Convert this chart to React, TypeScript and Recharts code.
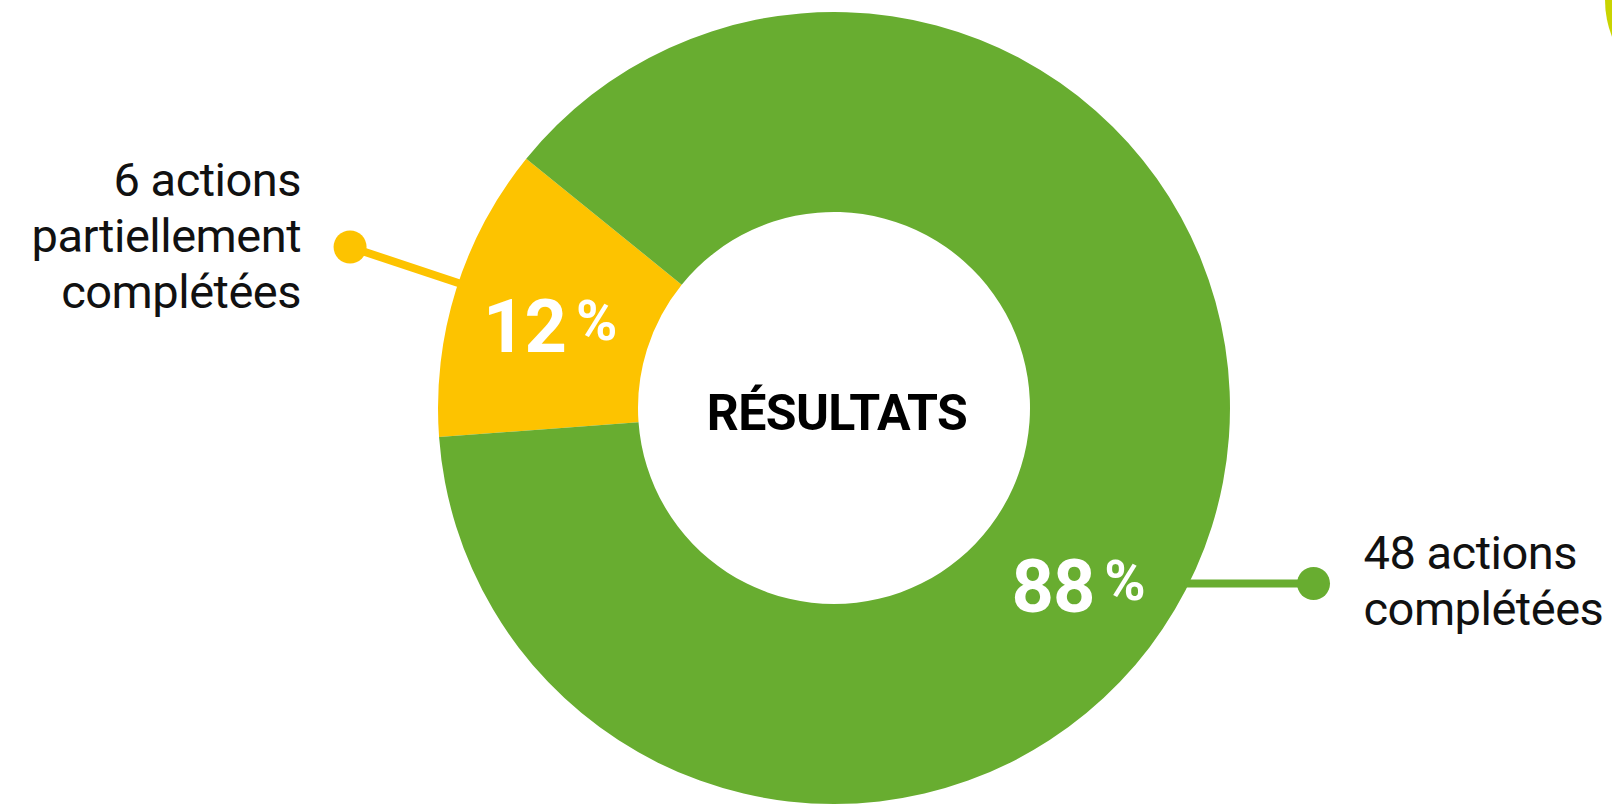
import React from 'react';
import { PieChart, Pie, Cell } from 'recharts';

const categories = ['partiellement complétées', 'complétées'];
const shares = [12, 88];
const actionCounts = [6, 48];
const labelLines = [
  ['6 actions', 'partiellement', 'complétées'],
  ['48 actions', 'complétées'],
];
const centerTitle = 'RÉSULTATS';

const colors = ['#fdc300', '#68ad30'];
const data = categories.map((name, i) => ({ name, value: shares[i], count: actionCounts[i] }));

const RAD = Math.PI / 180;
const polar = (cx: number, cy: number, r: number, angle: number) => ({
  x: cx + r * Math.cos(-angle * RAD),
  y: cy + r * Math.sin(-angle * RAD),
});

const FONT = 'Roboto, "DejaVu Sans", sans-serif';

const renderLabel = (props: any) => {
  const { cx, cy, midAngle, innerRadius, outerRadius, index, value } = props;
  const color = colors[index];
  const midR = (innerRadius + outerRadius) / 2;
  const pctAngle = index === 0 ? midAngle : 325;
  const p = polar(cx, cy, midR + 2, pctAngle);
  let start: { x: number; y: number };
  let dot: { x: number; y: number };
  let textX: number;
  let anchor: 'start' | 'end';
  let firstBase: number;
  if (index === 0) {
    start = polar(cx, cy, outerRadius - 4, midAngle - 1);
    dot = polar(cx, cy, outerRadius + 114, midAngle - 1);
    textX = dot.x - 49;
    anchor = 'end';
    firstBase = dot.y - 51;
  } else {
    start = polar(cx, cy, outerRadius - 4, 333.4);
    dot = { x: start.x + 129, y: start.y };
    textX = dot.x + 50;
    anchor = 'start';
    firstBase = dot.y - 15;
  }
  const lines = labelLines[index];
  return (
    <g>
      <text
        x={p.x}
        y={p.y + 33}
        textAnchor="middle"
        fill="#ffffff"
        fontFamily={FONT}
        fontWeight={700}
        letterSpacing={-1}
      >
        <tspan fontSize={74}>{value}</tspan>
        <tspan fontSize={56} dx={10} dy={-12}>%</tspan>
      </text>
      <line x1={start.x} y1={start.y} x2={dot.x} y2={dot.y} stroke={color} strokeWidth={8} />
      <circle cx={dot.x} cy={dot.y} r={16.5} fill={color} />
      <text
        textAnchor={anchor}
        fill="#111111"
        fontFamily={FONT}
        fontSize={47}
        fontWeight={400}
        letterSpacing={-0.5}
      >
        {lines.map((l, i) => (
          <tspan key={i} x={textX} y={firstBase + i * 56}>
            {l}
          </tspan>
        ))}
      </text>
      {index === 0 && (
        <text
          x={cx + 3}
          y={cy + 22}
          textAnchor="middle"
          fill="#000000"
          fontFamily={FONT}
          fontSize={50}
          fontWeight={700}
          letterSpacing={-0.6}
        >
          {centerTitle}
        </text>
      )}
    </g>
  );
};

export default function App() {
  return (
    <div
      style={{
        position: 'absolute',
        left: 0,
        top: 0,
        width: 1612,
        height: 804,
        overflow: 'hidden',
        background: '#ffffff',
      }}
    >
      <div
        style={{
          position: 'absolute',
          left: 1605,
          top: -100,
          width: 200,
          height: 200,
          borderRadius: '50%',
          background: '#c9d400',
        }}
      />
      <PieChart width={1612} height={804} margin={{ top: 0, right: 0, bottom: 0, left: 0 }}>
        <Pie
          data={data}
          dataKey="value"
          nameKey="name"
          cx={834}
          cy={408}
          innerRadius={196}
          outerRadius={396}
          startAngle={141}
          endAngle={501}
          stroke="none"
          paddingAngle={0}
          labelLine={false}
          label={renderLabel}
          isAnimationActive={false}
        >
          {data.map((d, i) => (
            <Cell key={d.name} fill={colors[i]} stroke="none" />
          ))}
        </Pie>
      </PieChart>
    </div>
  );
}
